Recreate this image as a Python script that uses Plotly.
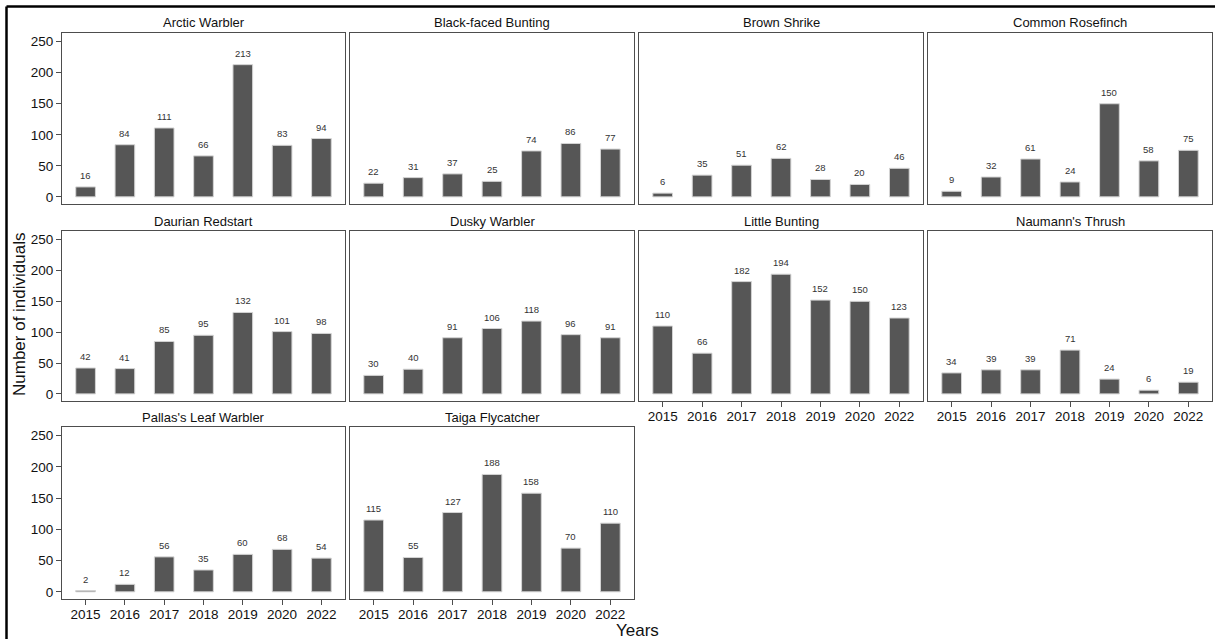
import plotly.graph_objects as go

W, H = 1215, 639

years = ["2015", "2016", "2017", "2018", "2019", "2020", "2022"]

species = [
    "Arctic Warbler", "Black-faced Bunting", "Brown Shrike", "Common Rosefinch",
    "Daurian Redstart", "Dusky Warbler", "Little Bunting", "Naumann's Thrush",
    "Pallas's Leaf Warbler", "Taiga Flycatcher",
]

arctic_warbler = [16, 84, 111, 66, 213, 83, 94]
black_faced_bunting = [22, 31, 37, 25, 74, 86, 77]
brown_shrike = [6, 35, 51, 62, 28, 20, 46]
common_rosefinch = [9, 32, 61, 24, 150, 58, 75]
daurian_redstart = [42, 41, 85, 95, 132, 101, 98]
dusky_warbler = [30, 40, 91, 106, 118, 96, 91]
little_bunting = [110, 66, 182, 194, 152, 150, 123]
naumanns_thrush = [34, 39, 39, 71, 24, 6, 19]
pallas_leaf_warbler = [2, 12, 56, 35, 60, 68, 54]
taiga_flycatcher = [115, 55, 127, 188, 158, 70, 110]

counts = [
    arctic_warbler, black_faced_bunting, brown_shrike, common_rosefinch,
    daurian_redstart, dusky_warbler, little_bunting, naumanns_thrush,
    pallas_leaf_warbler, taiga_flycatcher,
]

y_ticks = [0, 50, 100, 150, 200, 250]

# panel pixel boxes
col_px = [(62, 345), (350, 634), (639, 923), (928, 1212)]
row_px = [(33, 204), (231, 401), (427, 599)]

FONT = "Arial, Liberation Sans, sans-serif"
BAR_FILL = "#565656"
BAR_EDGE = "#d4d4d4"
FRAME = "#4d4d4d"

fig = go.Figure()
layout = dict(
    width=W, height=H,
    margin=dict(l=0, r=0, t=0, b=0),
    paper_bgcolor="white", plot_bgcolor="white",
    showlegend=False,
    font=dict(family=FONT, color="#1a1a1a"),
)
annotations = []

n = len(species)
for i in range(n):
    r, c = divmod(i, 4)
    x0, x1 = col_px[c]
    y0, y1 = row_px[r]
    k = i + 1
    xa = f"x{k}" if k > 1 else "x"
    ya = f"y{k}" if k > 1 else "y"
    xkey = f"xaxis{k}" if k > 1 else "xaxis"
    ykey = f"yaxis{k}" if k > 1 else "yaxis"

    # bottom panel of its column gets x labels; left column gets y labels
    bottom = (i + 4) >= n
    left = c == 0

    fig.add_trace(go.Bar(
        x=years, y=counts[i], xaxis=xa, yaxis=ya,
        width=0.5,
        marker=dict(color=BAR_FILL, line=dict(color=BAR_EDGE, width=1)),
        hoverinfo="x+y",
    ))

    layout[xkey] = dict(
        domain=[x0 / W, x1 / W], anchor=ya,
        type="category", range=[-0.6, 6.6],
        showline=True, mirror=True, linecolor=FRAME, linewidth=1,
        showgrid=False, zeroline=False,
        ticks="outside" if bottom else "", ticklen=5, tickcolor=FRAME,
        ticklabelstandoff=-2,
        showticklabels=bottom,
        tickfont=dict(size=13.5, family=FONT, color="#111111"),
        fixedrange=True,
    )
    layout[ykey] = dict(
        domain=[1 - y1 / H, 1 - y0 / H], anchor=xa,
        range=[-11.5, 264],
        tickvals=y_ticks,
        showline=True, mirror=True, linecolor=FRAME, linewidth=1,
        showgrid=False, zeroline=False,
        ticks="outside" if left else "", ticklen=5, tickcolor=FRAME,
        showticklabels=left,
        tickfont=dict(size=13.5, family=FONT, color="#111111"),
        fixedrange=True,
    )

    # facet title
    annotations.append(dict(
        text=species[i], xref="paper", yref="paper",
        x=(x0 + x1) / 2 / W, y=1 - (y0 - 10) / H,
        xanchor="center", yanchor="middle", showarrow=False,
        font=dict(size=13, family=FONT, color="#111111"),
    ))

    # value labels above bars (category axis positions are serial indices)
    for j, v in enumerate(counts[i]):
        annotations.append(dict(
            text=str(v), xref=xa, yref=ya, x=j, y=v,
            xanchor="center", yanchor="bottom", yshift=4, showarrow=False,
            font=dict(size=9.5, family=FONT, color="#333333"),
        ))

annotations.append(dict(
    text="Years", xref="paper", yref="paper",
    x=637 / W, y=1 - 630 / H, xanchor="center", yanchor="middle",
    showarrow=False, font=dict(size=17, family=FONT, color="#111111"),
))
annotations.append(dict(
    text="Number of individuals", xref="paper", yref="paper",
    x=19 / W, y=1 - 315 / H, xanchor="center", yanchor="middle",
    textangle=-90, showarrow=False,
    font=dict(size=17, family=FONT, color="#111111"),
))

layout["annotations"] = annotations
layout["shapes"] = [
    dict(type="line", xref="paper", yref="paper",
         x0=6.5 / W, x1=1.01, y0=1 - 6.5 / H, y1=1 - 6.5 / H,
         line=dict(color="black", width=2.5)),
    dict(type="line", xref="paper", yref="paper",
         x0=6.5 / W, x1=6.5 / W, y0=1 - 6.5 / H, y1=-0.01,
         line=dict(color="black", width=2.5)),
]

fig.update_layout(**layout)
fig.write_html("out.html")
